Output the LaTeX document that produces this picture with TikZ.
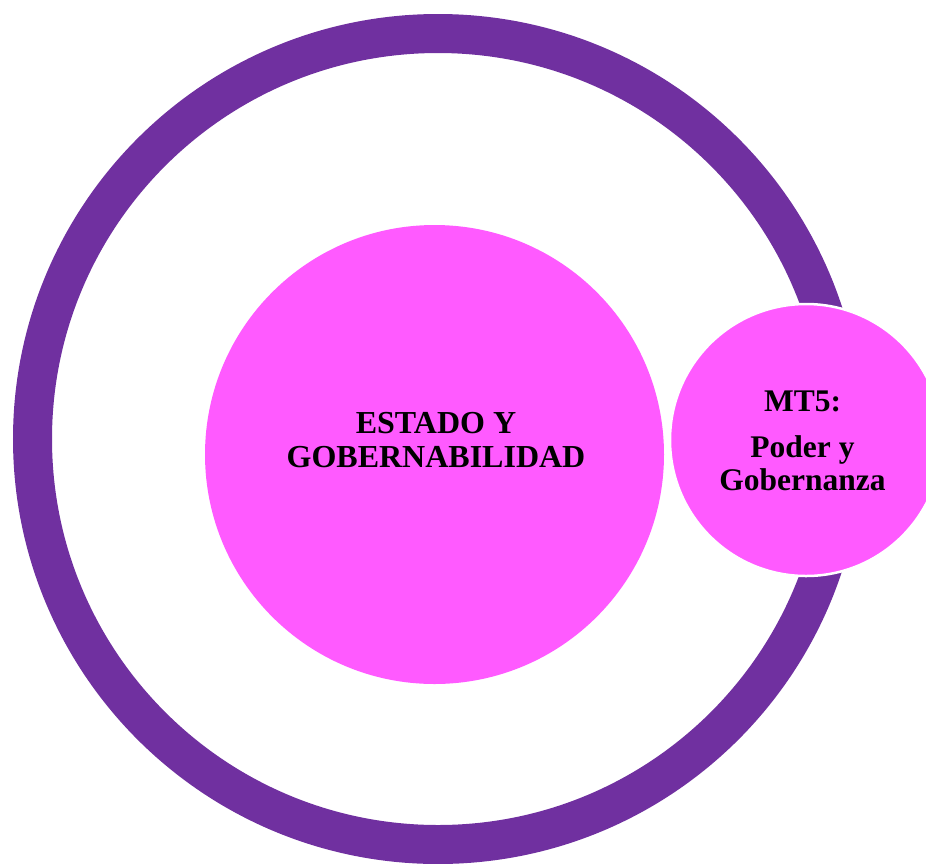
\documentclass[tikz,border=0pt]{standalone}
\usepackage{fontspec}
\setmainfont{Liberation Serif}
\definecolor{ringpurple}{RGB}{112,48,160}
\definecolor{pinkfill}{RGB}{255,90,255}
\begin{document}
\begin{tikzpicture}[x=1pt,y=-1pt,
  ringstyle/.style={circle,draw=ringpurple,line width=39pt,inner sep=0pt,minimum size=811pt},
  bigcircle/.style={circle,fill=pinkfill,inner sep=0pt,minimum size=459pt},
  smallcircle/.style={circle,fill=pinkfill,draw=white,line width=2.5pt,inner sep=0pt,minimum size=272pt},
  lbl/.style={anchor=base,inner sep=0pt,font=\fontsize{32}{35}\selectfont\bfseries,text=black},
  slbl/.style={lbl,font=\fontsize{31.5}{34}\selectfont\bfseries}]
\useasboundingbox (0,0) rectangle (926,863);
\fill[white] (0,0) rectangle (926,863);
\node[ringstyle] (ring) at (438,439) {};
\node[bigcircle] (main) at (434.5,454.5) {};
\node[smallcircle] (mt) at (806,440) {};
\node[lbl] (t1) at (436,433) {ESTADO Y};
\node[lbl] (t2) at (436,467) {GOBERNABILIDAD};
\node[slbl] (s1) at (802.5,411) {MT5:};
\node[slbl] (s2) at (802.5,457) {Poder y};
\node[slbl] (s3) at (802.5,490) {Gobernanza};
\end{tikzpicture}
\end{document}
